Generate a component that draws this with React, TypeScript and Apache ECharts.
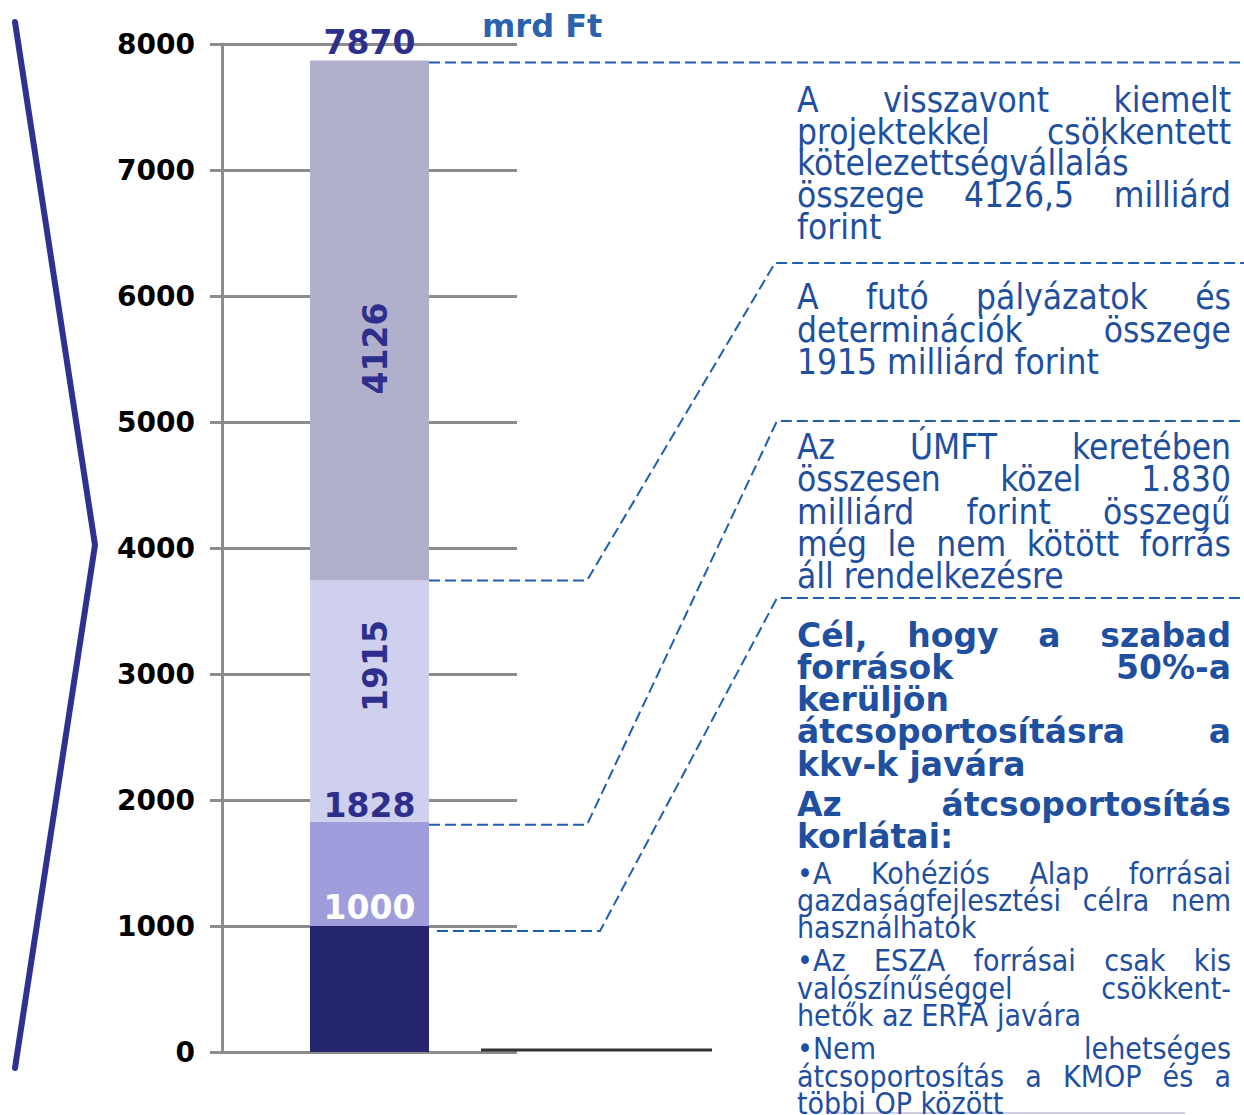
import React, { useEffect, useRef } from "react";
import * as echarts from "echarts";

// ---------------- data ----------------
const categories = ["ÚMFT"];
const segmentNames = ["Lekötött", "Szabad forrás", "Futó pályázatok és determinációk", "Visszavont kiemelt projektekkel csökkentett"];
const segmentValues = [1000, 828, 1915, 4126.5];
const segmentColors = ["#25246f", "#9f9edc", "#cfcfee", "#b0b0cc"];
const yMin = 0;
const yMax = 8000;
const yInterval = 1000;
const unitLabel = "mrd Ft";

const block1 = [
  ["A visszavont kiemelt", "projektekkel csökkentett", "kötelezettségvállalás", "összege 4126,5 milliárd", "forint"],
];
const block2 = [["A futó pályázatok és", "determinációk összege", "1915 milliárd forint"]];
const block3 = [
  ["Az ÚMFT keretében", "összesen közel 1.830", "milliárd forint összegű", "még le nem kötött forrás", "áll rendelkezésre"],
];
const block4 = [
  ["Cél, hogy a szabad", "források 50%-a", "kerüljön", "átcsoportosításra a", "kkv-k javára"],
  ["Az átcsoportosítás", "korlátai:"],
];
const block5 = [
  ["•A Kohéziós Alap forrásai", "gazdaságfejlesztési célra nem", "használhatók"],
  ["•Az ESZA forrásai csak kis", "valószínűséggel csökkent-", "hetők az ERFA javára"],
  ["•Nem lehetséges", "átcsoportosítás a KMOP és a", "többi OP között"],
];

// ---------------- layout ----------------
const TEXT_X0 = 797;
const TEXT_X1 = 1231;
const TEXT_COLOR = "#1f4f9f";
const DASH_COLOR = "#1f5faf";
const LABEL_DARK = "#2e2e8c";

type Block = {
  paras: string[][];
  top: number;
  lh: number;
  gap: number;
  size: number;
  weight: string;
  family: string;
};

const blocks: Block[] = [
  { paras: block1, top: 100, lh: 31.7, gap: 0, size: 35, weight: "normal", family: "DejaVu Sans Condensed" },
  { paras: block2, top: 297, lh: 32.5, gap: 0, size: 35, weight: "normal", family: "DejaVu Sans Condensed" },
  { paras: block3, top: 447, lh: 32.3, gap: 0, size: 35, weight: "normal", family: "DejaVu Sans Condensed" },
  { paras: block4, top: 635, lh: 32.3, gap: 7.5, size: 33, weight: "bold", family: "DejaVu Sans" },
  { paras: block5, top: 873, lh: 27.3, gap: 6, size: 30, weight: "normal", family: "DejaVu Sans Condensed" },
];

function buildBlock(b: Block, ctx: CanvasRenderingContext2D): any[] {
  const els: any[] = [];
  const font = `${b.weight} ${b.size}px "${b.family}"`;
  ctx.font = font;
  let y = b.top;
  const mk = (t: string, x: number, yy: number) => ({
    type: "text",
    x,
    y: yy,
    silent: true,
    style: {
      text: t,
      fill: TEXT_COLOR,
      fontSize: b.size,
      fontWeight: b.weight,
      fontFamily: b.family,
      align: "left",
      verticalAlign: "middle",
    },
  });
  b.paras.forEach((para, pi) => {
    if (pi > 0) y += b.gap;
    para.forEach((line, li) => {
      const words = line.split(" ");
      const last = li === para.length - 1;
      if (last || words.length < 2) {
        els.push(mk(line, TEXT_X0, y));
      } else {
        const widths = words.map((w) => ctx.measureText(w).width);
        const total = widths.reduce((a, c) => a + c, 0);
        const gap = (TEXT_X1 - TEXT_X0 - total) / (words.length - 1);
        let x = TEXT_X0;
        words.forEach((w, i) => {
          els.push(mk(w, x, y));
          x += widths[i] + gap;
        });
      }
      y += b.lh;
    });
  });
  return els;
}

function cumulative(i: number) {
  let s = 0;
  for (let k = 0; k <= i; k++) s += segmentValues[k];
  return s;
}

export default function App() {
  const ref = useRef<HTMLDivElement>(null);
  useEffect(() => {
    if (!ref.current) return;
    const chart = echarts.init(ref.current, null, { renderer: "svg" });
    const labelFont = { fontFamily: "DejaVu Sans", fontWeight: "bold" as const, fontSize: 33 };
    const labelCfg: any[] = [
      { show: true, position: "top", distance: 2, color: "#ffffff", ...labelFont, formatter: () => String(Math.round(cumulative(0))) },
      { show: true, position: "top", distance: 0, color: LABEL_DARK, ...labelFont, formatter: () => String(Math.round(cumulative(1))) },
      { show: true, position: ["55%", "35.5%"], align: "center", verticalAlign: "middle", rotate: 90, color: LABEL_DARK, ...labelFont, formatter: (p: any) => String(Math.trunc(p.value)) },
      { show: true, position: ["55%", "55.4%"], align: "center", verticalAlign: "middle", rotate: 90, color: LABEL_DARK, ...labelFont, formatter: (p: any) => String(Math.trunc(p.value)) },
    ];
    const gridColor = "#8c8c8c";
    chart.setOption({
      animation: false,
      grid: { left: 222, top: 44, width: 295, height: 1008, containLabel: false },
      xAxis: {
        type: "category",
        data: categories,
        axisLine: { show: false },
        axisTick: { show: false },
        axisLabel: { show: false },
      },
      yAxis: {
        type: "value",
        min: yMin,
        max: yMax,
        interval: yInterval,
        axisLine: { show: true, lineStyle: { color: gridColor, width: 3 } },
        axisTick: { show: true, length: 12, lineStyle: { color: gridColor, width: 3 } },
        splitLine: { show: true, lineStyle: { color: gridColor, width: 3 } },
        axisLabel: {
          margin: 27,
          color: "#000",
          fontFamily: "DejaVu Sans",
          fontWeight: "bold",
          fontSize: 28,
          formatter: (v: number) => String(v),
        },
      },
      series: segmentValues.map((v, i) => ({
        type: "bar",
        name: segmentNames[i],
        stack: "total",
        barWidth: 119,
        data: [v],
        itemStyle: { color: segmentColors[i] },
        label: labelCfg[i],
        z: 2,
      })),
    });

    const cx = chart.convertToPixel({ xAxisIndex: 0 }, categories[0]) as number;
    const right = cx + 119 / 2;
    const yOf = (v: number) => chart.convertToPixel({ yAxisIndex: 0 }, v) as number;
    const total = cumulative(segmentValues.length - 1);
    const yTop = yOf(total);
    const y3 = yOf(cumulative(2));
    const y2 = yOf(cumulative(1));
    const y1 = yOf(cumulative(0));

    const canvas = document.createElement("canvas");
    const ctx = canvas.getContext("2d") as CanvasRenderingContext2D;
    const textEls = blocks.flatMap((b) => buildBlock(b, ctx));

    const dash = { stroke: DASH_COLOR, lineWidth: 2, lineDash: [11, 5], fill: null };
    chart.setOption({
      graphic: [
        {
          type: "polyline",
          shape: { points: [[15, 22], [95, 545], [15, 1068]] },
          style: { stroke: "#2e3192", lineWidth: 6, fill: null, lineCap: "round", lineJoin: "round" },
        },
        {
          type: "text",
          x: cx,
          y: yTop - 1,
          style: { text: String(Math.round(total)), fill: LABEL_DARK, fontFamily: "DejaVu Sans", fontWeight: "bold", fontSize: 33, align: "center", verticalAlign: "bottom" },
          z: 10,
        },
        {
          type: "text",
          x: 482,
          y: 26,
          style: { text: unitLabel, fill: "#2a62ad", fontFamily: "DejaVu Sans", fontWeight: "bold", fontSize: 32, align: "left", verticalAlign: "middle" },
        },
        { type: "polyline", shape: { points: [[right, yTop + 2], [1244, yTop + 2]] }, style: dash },
        { type: "polyline", shape: { points: [[right, y3], [587, y3], [775, 263], [1244, 263]] }, style: dash },
        { type: "polyline", shape: { points: [[right, y2 + 3], [587, y2 + 3], [777, 421], [1244, 421]] }, style: dash },
        { type: "polyline", shape: { points: [[right + 8, y1 + 5], [600, y1 + 5], [777, 598], [1244, 598]] }, style: dash },
        { type: "line", shape: { x1: 481, y1: 1050, x2: 712, y2: 1050 }, style: { stroke: "#333333", lineWidth: 3 } },
        { type: "line", shape: { x1: 830, y1: 1113, x2: 1185, y2: 1113 }, style: { stroke: "#d0d0e0", lineWidth: 2 } },
        ...textEls,
      ],
    });
    return () => chart.dispose();
  }, []);
  return (
    <div
      ref={ref}
      style={{ position: "absolute", left: 0, top: 0, width: 1244, height: 1115, background: "#ffffff" }}
    />
  );
}
